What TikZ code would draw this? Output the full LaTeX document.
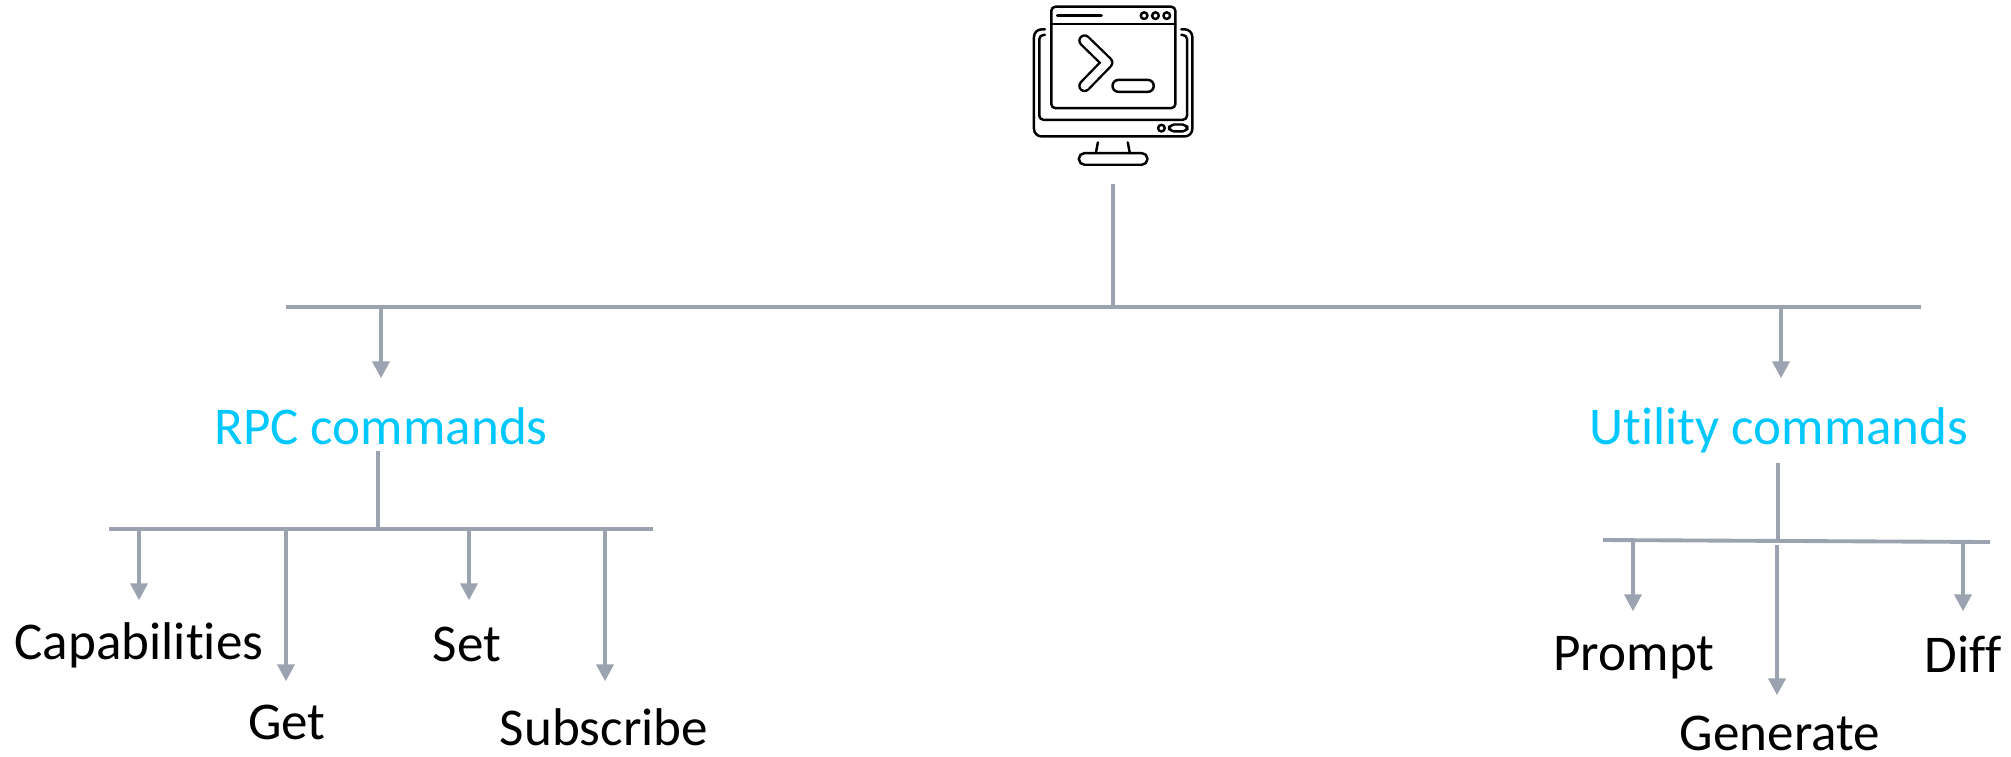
\documentclass[tikz,border=0pt]{standalone}
\usepackage{fontspec}
\setmainfont[Ligatures={NoCommon}]{Carlito}
\usepackage{tikz}
\usetikzlibrary{arrows.meta,calc}
\definecolor{railgray}{HTML}{9AA3AF}
\definecolor{groupcyan}{HTML}{00C8FF}

\begin{document}
\begin{tikzpicture}[
  x=0.01cm, y=-0.01cm,
  rail/.style={draw=railgray, line width=1.1pt},
  drop/.style={rail, -{Triangle[length=4.8pt, width=4.8pt]}},
  group/.style 2 args={anchor=base, inner sep=0pt, text=groupcyan, font=\fontsize{15.1}{18}\selectfont, text height=#1, text depth=#2},
  leaf/.style={anchor=base, inner sep=0pt, text=black, font=\fontsize{15.1}{18}\selectfont, text height=#1, text depth=0pt},
  ink/.style={draw=black, line width=0.7pt, line join=round, line cap=round},
]
\useasboundingbox (0,0) rectangle (2011,756);
% Terminal icon
\begin{scope}[shift={(1010,0)}, x=0.003333cm, y=-0.003333cm]
  \draw[ink, rounded corners=1.2pt] (124,20) rectangle (497,325);
  \draw[ink] (124,72) -- (497,72);
  \draw[ink] (142,46) -- (275,46);
  \foreach \x in {403,437,471} {
    \draw[ink] (\x,47) circle (10);
  }
  % Prompt chevron and cursor
  \draw[line width=3.6pt, line join=round, line cap=round] (224,122) -- (292,188) -- (224,258);
  \draw[white, line width=2.25pt, line join=round, line cap=round] (224,122) -- (292,188) -- (224,258);
  \draw[ink, rounded corners=1.7pt] (308,240) rectangle (432,276);
  % Monitor frame
  \draw[ink, rounded corners=2.2pt] (105,88) -- (72,88) -- (72,410) -- (548,410) -- (548,88) -- (515,88);
  \draw[ink, rounded corners=1.2pt] (105,105) -- (88,105) -- (88,360) -- (532,360) -- (532,105) -- (515,105);
  \draw[ink] (455,385) circle (10);
  \draw[ink, rounded corners=1.4pt] (478,374) rectangle (533,395);
  % Stand
  \draw[ink] (264,428) -- (258,460);
  \draw[ink] (354,428) -- (360,460);
  \draw[ink, rounded corners=1.6pt] (207,460) rectangle (413,495);
\end{scope}
% Labels
\node[group={0.65cm}{0.06cm}] (rpc) at (381,444) {RPC commands};
\node[group={0.65cm}{0.18cm}] (utility) at (1779,444) {Utility commands};
\node[leaf=0.58cm] (capabilities) at (139,659) {Capabilities};
\node[leaf=0.57cm] (get) at (287,739) {Get};
\node[leaf=0.60cm] (set) at (467,661) {Set};
\node[leaf=0.63cm] (subscribe) at (604,745) {Subscribe};
\node[leaf=0.58cm] (prompt) at (1634,670) {Prompt};
\node[leaf=0.54cm] (generate) at (1780,750) {Generate};
\node[leaf=0.60cm] (diff) at (1963,672) {Diff};
% Junctions on the rails
\coordinate (iconFoot) at (1113,184);
\coordinate (mainJoin) at (1113,307);
\coordinate (rpcDrop) at (381,307);
\coordinate (utilityDrop) at (1781,307);
\coordinate (rpcJoin) at (378,529);
\coordinate (capabilitiesDrop) at (139,529);
\coordinate (getDrop) at (286,529);
\coordinate (setDrop) at (469,529);
\coordinate (subscribeDrop) at (605,529);
\coordinate (utilityJoin) at (1778,541);
\coordinate (promptDrop) at (1633,541);
\coordinate (generateDrop) at (1777,545);
\coordinate (diffDrop) at (1963,542);
% Rails
\draw[rail] (286,307) coordinate (mainL) -- (1921,307) coordinate (mainR);
\draw[rail] (109,529) coordinate (rpcL) -- (653,529) coordinate (rpcR);
\draw[rail] (1603,540) coordinate (utilityL) -- (1990,542) coordinate (utilityR);
% Stems
\draw[rail] (iconFoot) -- (mainJoin);
\draw[rail] (rpc.south -| rpcJoin) -- (rpcJoin);
\draw[rail] (utility.south -| utilityJoin) -- (utilityJoin);
% Drops
\foreach \from/\to in {rpcDrop/rpc, utilityDrop/utility, capabilitiesDrop/capabilities, getDrop/get, setDrop/set, subscribeDrop/subscribe, promptDrop/prompt, generateDrop/generate, diffDrop/diff} {
  \draw[drop] (\from) -- (\to.north -| \from);
}
\end{tikzpicture}
\end{document}
